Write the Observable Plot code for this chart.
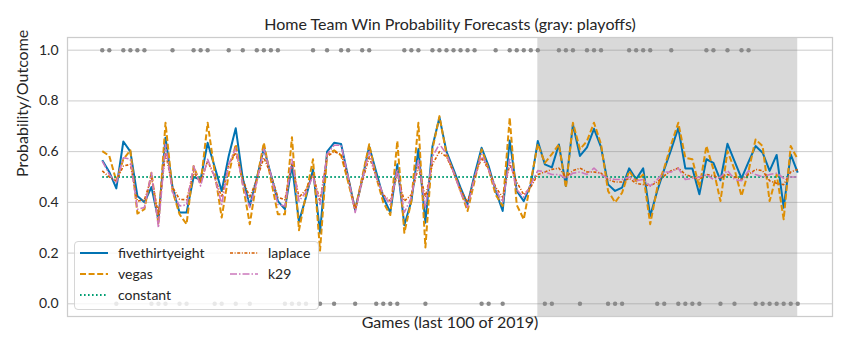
<!DOCTYPE html>
<html>
<head>
<meta charset="utf-8">
<script src="https://cdn.jsdelivr.net/npm/d3@7"></script>
<script src="https://cdn.jsdelivr.net/npm/@observablehq/plot@0.6"></script>
<style>
  body { margin: 0; background: #ffffff; }
  #chart svg { font-family: Lato, "Open Sans", sans-serif; display: block; }
</style>
</head>
<body>
<div id="chart"></div>
<script>
// ---- Data ----
const titleText = "Home Team Win Probability Forecasts (gray: playoffs)";
const xLabel = "Games (last 100 of 2019)";
const yLabel = "Probability/Outcome";
const yTicks = [0.0, 0.2, 0.4, 0.6, 0.8, 1.0];
const seriesNames = ["fivethirtyeight", "vegas", "constant", "laplace", "k29"];
const playoffSpan = [{start: 62, end: 99}];

const fivethirtyeight = [
  0.566, 0.52, 0.455, 0.64, 0.60, 0.425, 0.40, 0.46, 0.33, 0.655,
  0.46, 0.36, 0.36, 0.50, 0.49, 0.635, 0.54, 0.445, 0.583, 0.692,
  0.495, 0.386, 0.495, 0.613, 0.51, 0.405, 0.373, 0.547, 0.324, 0.42,
  0.53, 0.28, 0.60, 0.635, 0.63, 0.50, 0.37, 0.49, 0.62, 0.52,
  0.42, 0.36, 0.55, 0.31, 0.405, 0.61, 0.32, 0.62, 0.735, 0.60,
  0.53, 0.458, 0.392, 0.51, 0.615, 0.543, 0.445, 0.366, 0.644, 0.445,
  0.405, 0.47, 0.642, 0.55, 0.538, 0.628, 0.465, 0.707, 0.583, 0.617,
  0.69, 0.618, 0.471, 0.445, 0.458, 0.534, 0.491, 0.534, 0.346, 0.445,
  0.53, 0.61, 0.694, 0.534, 0.534, 0.432, 0.57, 0.556, 0.487, 0.631,
  0.563, 0.495, 0.56, 0.622, 0.596, 0.524, 0.587, 0.379, 0.589, 0.517
];
const vegas = [
  0.602, 0.583, 0.484, 0.57, 0.605, 0.356, 0.373, 0.517, 0.314, 0.714,
  0.445, 0.353, 0.314, 0.543, 0.471, 0.714, 0.52, 0.34, 0.51, 0.629,
  0.471, 0.314, 0.49, 0.635, 0.49, 0.353, 0.353, 0.657, 0.29, 0.43,
  0.57, 0.21, 0.589, 0.605, 0.585, 0.48, 0.37, 0.50, 0.629, 0.50,
  0.40, 0.35, 0.642, 0.28, 0.405, 0.714, 0.222, 0.609, 0.74, 0.589,
  0.52, 0.445, 0.366, 0.484, 0.609, 0.53, 0.43, 0.386, 0.734, 0.39,
  0.333, 0.484, 0.63, 0.556, 0.59, 0.629, 0.458, 0.714, 0.609, 0.642,
  0.714, 0.629, 0.445, 0.40, 0.438, 0.524, 0.484, 0.51, 0.314, 0.458,
  0.537, 0.63, 0.714, 0.576, 0.57, 0.458, 0.622, 0.53, 0.405, 0.602,
  0.53, 0.425, 0.524, 0.648, 0.622, 0.405, 0.51, 0.333, 0.622, 0.57
];
const constant = [
  0.5, 0.5, 0.5, 0.5, 0.5, 0.5, 0.5, 0.5, 0.5, 0.5,
  0.5, 0.5, 0.5, 0.5, 0.5, 0.5, 0.5, 0.5, 0.5, 0.5,
  0.5, 0.5, 0.5, 0.5, 0.5, 0.5, 0.5, 0.5, 0.5, 0.5,
  0.5, 0.5, 0.5, 0.5, 0.5, 0.5, 0.5, 0.5, 0.5, 0.5,
  0.5, 0.5, 0.5, 0.5, 0.5, 0.5, 0.5, 0.5, 0.5, 0.5,
  0.5, 0.5, 0.5, 0.5, 0.5, 0.5, 0.5, 0.5, 0.5, 0.5,
  0.5, 0.5, 0.5, 0.5, 0.5, 0.5, 0.5, 0.5, 0.5, 0.5,
  0.5, 0.5, 0.5, 0.5, 0.5, 0.5, 0.5, 0.5, 0.5, 0.5,
  0.5, 0.5, 0.5, 0.5, 0.5, 0.5, 0.5, 0.5, 0.5, 0.5,
  0.5, 0.5, 0.5, 0.5, 0.5, 0.5, 0.5, 0.5, 0.5, 0.5
];
const laplace = [
  0.524, 0.50, 0.484, 0.543, 0.55, 0.405, 0.41, 0.497, 0.353, 0.596,
  0.46, 0.412, 0.41, 0.52, 0.48, 0.563, 0.50, 0.42, 0.55, 0.596,
  0.49, 0.42, 0.49, 0.576, 0.51, 0.42, 0.41, 0.556, 0.42, 0.45,
  0.51, 0.405, 0.58, 0.60, 0.59, 0.50, 0.373, 0.48, 0.58, 0.50,
  0.43, 0.405, 0.51, 0.405, 0.43, 0.54, 0.42, 0.55, 0.60, 0.58,
  0.52, 0.45, 0.40, 0.50, 0.575, 0.53, 0.46, 0.42, 0.55, 0.48,
  0.43, 0.46, 0.51, 0.52, 0.53, 0.535, 0.50, 0.525, 0.535, 0.52,
  0.52, 0.515, 0.49, 0.48, 0.48, 0.495, 0.475, 0.47, 0.465, 0.48,
  0.505, 0.525, 0.535, 0.51, 0.50, 0.49, 0.51, 0.505, 0.495, 0.51,
  0.50, 0.49, 0.51, 0.53, 0.525, 0.485, 0.475, 0.47, 0.52, 0.53
];
const k29 = [
  0.563, 0.51, 0.478, 0.576, 0.57, 0.373, 0.38, 0.517, 0.30, 0.629,
  0.44, 0.386, 0.39, 0.543, 0.465, 0.57, 0.50, 0.392, 0.55, 0.615,
  0.47, 0.38, 0.48, 0.61, 0.51, 0.392, 0.386, 0.57, 0.405, 0.44,
  0.504, 0.392, 0.59, 0.625, 0.625, 0.50, 0.36, 0.49, 0.60, 0.50,
  0.43, 0.39, 0.53, 0.36, 0.42, 0.57, 0.38, 0.58, 0.63, 0.59,
  0.52, 0.44, 0.38, 0.50, 0.59, 0.53, 0.45, 0.40, 0.57, 0.45,
  0.42, 0.47, 0.525, 0.52, 0.51, 0.51, 0.495, 0.515, 0.52, 0.51,
  0.535, 0.51, 0.495, 0.49, 0.49, 0.50, 0.485, 0.49, 0.465, 0.49,
  0.52, 0.52, 0.535, 0.49, 0.495, 0.50, 0.51, 0.49, 0.50, 0.525,
  0.49, 0.485, 0.525, 0.51, 0.50, 0.51, 0.515, 0.495, 0.50, 0.50
];
// Actual outcome: 1 = home team won, 0 = home team lost
const outcome = [
  1, 1, 0, 1, 1, 1, 1, 0, 0, 0,
  1, 0, 0, 1, 1, 1, 0, 0, 1, 0,
  1, 0, 1, 1, 1, 1, 0, 0, 0, 0,
  1, 0, 1, 0, 1, 1, 0, 1, 1, 0,
  0, 0, 0, 1, 1, 1, 0, 1, 1, 1,
  1, 1, 1, 1, 0, 0, 1, 0, 1, 1,
  1, 1, 1, 0, 0, 1, 1, 1, 0, 1,
  1, 1, 0, 0, 0, 1, 1, 1, 1, 0,
  0, 1, 0, 0, 0, 0, 1, 1, 0, 1,
  0, 1, 1, 0, 0, 0, 0, 0, 0, 0
];

// ---- Styles ----
const colors = {
  fivethirtyeight: "#0173b2", vegas: "#de8f05", constant: "#029e73",
  laplace: "#d55e00", k29: "#cc78bc"
};
const styles = {
  fivethirtyeight: {strokeWidth: 2, dash: null},
  vegas: {strokeWidth: 2, dash: "6,2.6"},
  constant: {strokeWidth: 2, dash: "1.6,2.4"},
  laplace: {strokeWidth: 1.6, dash: "3,1.6,1,1.6"},
  k29: {strokeWidth: 1.6, dash: "7,2,1.5,2"}
};
const seriesData = {fivethirtyeight, vegas, constant, laplace, k29};

const lineMarks = seriesNames.map(name => Plot.line(seriesData[name], {
  x: (d, i) => i,
  y: d => d,
  stroke: colors[name],
  strokeWidth: styles[name].strokeWidth,
  strokeDasharray: styles[name].dash,
  strokeLinejoin: "round",
  strokeLinecap: "butt"
}));

const chart = Plot.plot({
  width: 850,
  height: 354,
  marginLeft: 67,
  marginRight: 18,
  marginTop: 37,
  marginBottom: 38,
  style: {fontFamily: "Lato, 'Open Sans', sans-serif", fontSize: "14px", color: "#262626", background: "#ffffff"},
  x: {domain: [-4.95, 103.95], axis: null},
  y: {domain: [-0.05, 1.05], ticks: yTicks, tickFormat: d3.format(".1f"), tickSize: 0, tickPadding: 9, label: null},
  marks: [
    Plot.gridY(yTicks, {stroke: "#cccccc", strokeOpacity: 1, strokeWidth: 1}),
    Plot.rect(playoffSpan, {x1: "start", x2: "end", fill: "#808080", fillOpacity: 0.3}),
    Plot.dot(outcome, {x: (d, i) => i, y: d => d, r: 2.2, fill: "#8a8a8a", stroke: null}),
    ...lineMarks,
    Plot.frame({stroke: "#cccccc", strokeWidth: 1.25}),
    Plot.text([titleText], {frameAnchor: "top", dy: -19, fontSize: 16, fill: "#262626"}),
    Plot.text([xLabel], {frameAnchor: "bottom", dy: 11, fontSize: 16, fill: "#262626"}),
    Plot.text([yLabel], {frameAnchor: "left", dx: -45, rotate: -90, fontSize: 16, fill: "#262626"})
  ]
});

document.getElementById("chart").appendChild(chart);

// ---- Legend (two columns, like matplotlib ncol=2) ----
const svg = d3.select(chart);
const lg = svg.append("g").attr("class", "legend").attr("text-anchor", "start");
lg.append("rect")
  .attr("x", 74.5).attr("y", 241.5).attr("width", 244).attr("height", 68)
  .attr("rx", 3.5).attr("ry", 3.5)
  .attr("fill", "#ffffff").attr("fill-opacity", 0.8)
  .attr("stroke", "#cccccc").attr("stroke-opacity", 0.8).attr("stroke-width", 1);
const legendLayout = [
  {name: "fivethirtyeight", col: 0, row: 0},
  {name: "vegas", col: 0, row: 1},
  {name: "constant", col: 0, row: 2},
  {name: "laplace", col: 1, row: 0},
  {name: "k29", col: 1, row: 1}
];
const colX = [80, 230];
const rowY = [253, 274, 295];
legendLayout.forEach(e => {
  const x0 = colX[e.col], y0 = rowY[e.row];
  lg.append("line")
    .attr("x1", x0).attr("x2", x0 + 28).attr("y1", y0).attr("y2", y0)
    .attr("stroke", colors[e.name])
    .attr("stroke-width", styles[e.name].strokeWidth)
    .attr("stroke-dasharray", styles[e.name].dash);
  lg.append("text")
    .attr("x", x0 + 38).attr("y", y0)
    .attr("dy", "0.35em")
    .attr("text-anchor", "start")
    .attr("font-size", 14)
    .attr("fill", "#262626")
    .text(e.name);
});
</script>
</body>
</html>
